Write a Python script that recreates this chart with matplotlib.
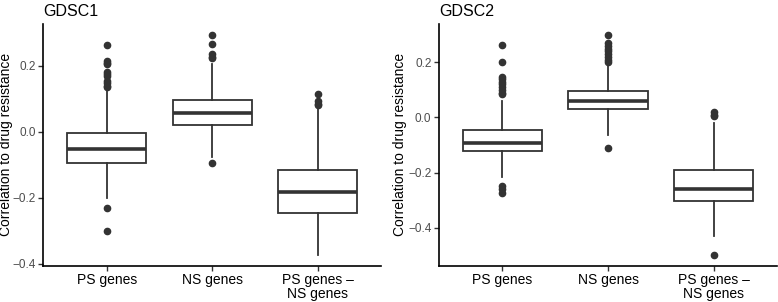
import matplotlib
matplotlib.use("Agg")
import matplotlib.pyplot as plt
from matplotlib.ticker import FuncFormatter

plt.rcParams['font.family'] = ['Liberation Sans', 'DejaVu Sans']

groups = ["PS genes", "NS genes", "PS genes \u2013\nNS genes"]
titles = ["GDSC1", "GDSC2"]

# box summaries, one list per panel
gdsc1_q1 = [-0.094, 0.021, -0.247]
gdsc1_med = [-0.051, 0.057, -0.183]
gdsc1_q3 = [-0.003, 0.0965, -0.117]
gdsc1_lo = [-0.200, -0.076, -0.373]
gdsc1_hi = [0.130, 0.205, 0.069]
gdsc1_out = [
    [0.262, 0.215, 0.210, 0.205, 0.180, 0.175, 0.170, 0.155, 0.148, 0.140, 0.137, -0.232, -0.302],
    [0.293, 0.267, 0.235, 0.228, 0.223, -0.094],
    [0.115, 0.094, 0.085, 0.080],
]

gdsc2_q1 = [-0.120, 0.030, -0.305]
gdsc2_med = [-0.091, 0.058, -0.261]
gdsc2_q3 = [-0.044, 0.096, -0.189]
gdsc2_lo = [-0.217, -0.065, -0.429]
gdsc2_hi = [0.061, 0.193, -0.019]
gdsc2_out = [
    [0.263, 0.200, 0.148, 0.140, 0.130, 0.120, 0.110, 0.100, 0.090, 0.085, -0.249, -0.260, -0.273],
    [0.299, 0.270, 0.260, 0.250, 0.240, 0.230, 0.220, 0.210, 0.200, -0.110],
    [0.019, 0.010, 0.004, -0.499],
]

panels = [
    (gdsc1_q1, gdsc1_med, gdsc1_q3, gdsc1_lo, gdsc1_hi, gdsc1_out, (-0.406, 0.327)),
    (gdsc2_q1, gdsc2_med, gdsc2_q3, gdsc2_lo, gdsc2_hi, gdsc2_out, (-0.538, 0.339)),
]

dark = "#333333"
fig = plt.figure(figsize=(7.78, 3.02), dpi=100)
rects = [[0.0559, 0.1202, 0.4338, 0.8003], [0.5643, 0.1202, 0.4345, 0.8003]]
label_x = [-0.09, -0.094]

for i, (q1, med, q3, lo, hi, out, ylim) in enumerate(panels):
    ax = fig.add_axes(rects[i])
    stats = []
    for j in range(3):
        stats.append(dict(q1=q1[j], med=med[j], q3=q3[j], whislo=lo[j],
                          whishi=hi[j], fliers=out[j]))
    ax.bxp(stats, positions=[1, 2, 3], widths=0.75, showcaps=False,
           patch_artist=True,
           boxprops=dict(facecolor="white", edgecolor=dark, linewidth=1.3),
           medianprops=dict(color=dark, linewidth=2.6),
           whiskerprops=dict(color=dark, linewidth=1.3),
           flierprops=dict(marker="o", markerfacecolor=dark, markeredgecolor=dark,
                           markersize=4.5))
    ax.set_xlim(0.4, 3.6)
    ax.set_ylim(*ylim)
    ax.set_xticks([1, 2, 3])
    ax.set_xticklabels(groups, fontsize=10, color="black", linespacing=0.95)
    ax.set_yticks([-0.4, -0.2, 0.0, 0.2])
    ax.yaxis.set_major_formatter(FuncFormatter(lambda v, p: ("%.1f" % v).replace("-", "\u2212")))
    ax.tick_params(axis="y", labelsize=8.5, labelcolor="#4D4D4D", color=dark, length=3.5, width=1, pad=2)
    ax.tick_params(axis="x", color=dark, length=3.5, width=1, pad=2)
    for s in ["top", "right"]:
        ax.spines[s].set_visible(False)
    for s in ["left", "bottom"]:
        ax.spines[s].set_linewidth(1.2)
        ax.spines[s].set_color("black")
    ax.set_ylabel("Correlation to drug resistance", fontsize=10)
    ax.yaxis.set_label_coords(label_x[i], 0.5)
    ax.set_title(titles[i], loc="left", fontsize=11.5, pad=6)

fig.savefig("out.png", dpi=100)
